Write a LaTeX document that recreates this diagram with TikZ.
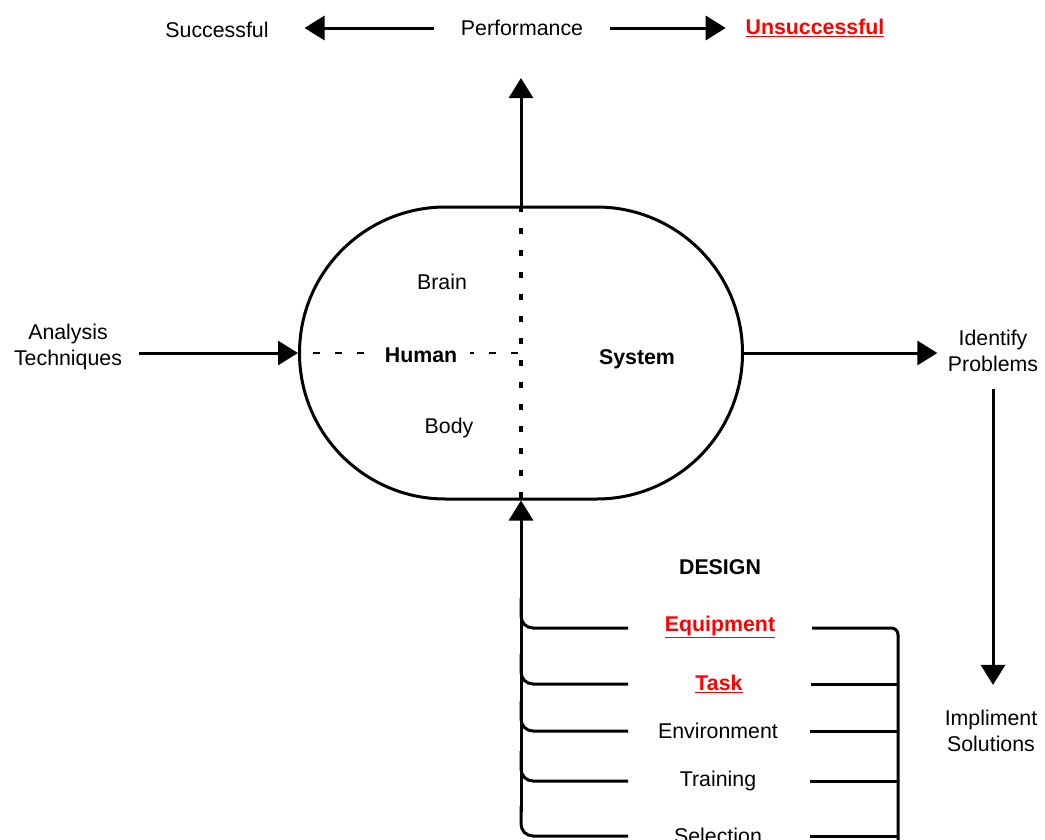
\documentclass[tikz,border=0pt]{standalone}
\usepackage{fontspec}
\setmainfont{Liberation Sans}
\usetikzlibrary{arrows.meta}
\usetikzlibrary{shapes.misc}

\tikzset{
  lbl/.style={inner sep=0.75pt,align=center,font=\fontsize{16}{19.5}\selectfont},
  boldlbl/.style={lbl,font=\fontsize{16}{19.5}\selectfont\bfseries},
  redlbl/.style={boldlbl,text=red},
  flow/.style={line width=2.25pt},
  bigarrow/.style={flow,-{Triangle[length=15pt,width=18pt]}},
  branch/.style={lbl,minimum width=138pt},
  dotline/.style={line width=2.4pt,dash pattern={on 5pt off 11.5pt}},
}

\begin{document}
\begin{tikzpicture}[x=0.75pt,y=0.75pt,yscale=-1,xscale=1]
\useasboundingbox (0,0) rectangle (1045,839);

%Stadium [id:sys]
\node [draw,flow,rounded rectangle,minimum width=332.25pt,minimum height=219pt,inner sep=0pt] (sys) at (521,353) {};
%Dotted divider
\draw [dotline] (sys.north) -- (sys.south);
\draw [dotline,line width=2.2pt,dash phase=5pt] (sys.west) -- (sys.center);

% Text Node
\node [lbl] (brain) at (442,282) {Brain};
% Text Node
\node [boldlbl,fill=white,inner xsep=10pt] (human) at (421,355) {Human};
% Text Node
\node [lbl] (body) at (449,428) {Body};
% Text Node
\node [boldlbl] (system) at (637,359) {System};

% Text Node
\node [lbl] (succ) at (217,30) {Successful};
% Text Node
\node [lbl,inner xsep=20pt] (perf) at (522,28) {Performance};
% Text Node
\node [redlbl] (unsucc) at (815,28) {\underline{Unsuccessful}};
% Text Node
\node [lbl] (analysis) at (68,347) {Analysis\\Techniques};
% Text Node
\node [lbl] (identify) at (993,351) {Identify\\Problems};
% Text Node
\node [lbl] (impl) at (991,731) {Impliment\\Solutions};

\coordinate (perftip) at (521,78);

%Straight Lines
\draw [bigarrow,shorten >=26pt] (perf.west) -- (perf.west -| succ.east);
\draw [bigarrow,shorten >=14pt] (perf.east) -- (perf.east -| unsucc.west);
\draw [bigarrow] (sys.north) -- (perftip);
\draw [bigarrow,shorten <=12pt] (analysis.east |- sys.west) -- (sys.west);
\draw [bigarrow,shorten >=7pt] (sys.east) -- (sys.east -| identify.west);
\draw [bigarrow,shorten <=12pt,shorten >=18pt] (identify.south) -- (identify.south |- impl.north);

% Design branches
\node [boldlbl] (design) at (720,567) {DESIGN};
\node [branch,font=\fontsize{16}{19.5}\selectfont\bfseries,text=red] (equip) at (720,627) {\underline{Equipment}};
\node [branch,font=\fontsize{16}{19.5}\selectfont\bfseries,text=red] (task) at (719,684) {\underline{Task}};
\node [branch] (env) at (718,731) {Environment};
\node [branch] (train) at (718,781) {Training};
\node [branch] (sel) at (718,836) {Selection};

\coordinate (base) at (521,812);
\draw [bigarrow] (base) -- (sys.south);
\foreach \n/\y in {equip/628,task/684,env/731,train/781,sel/836}
  \draw [flow,rounded corners=9pt] (521,\y-30) -- (521,\y) -- (628,\y);
\draw [flow,rounded corners=5pt] (812,628) -- (898,628) -- (898,845);
\foreach \n/\y in {task/684,env/731,train/781,sel/836}
  \draw [flow] (\n.east |- 0,\y) -- (898,\y);

\end{tikzpicture}
\end{document}
